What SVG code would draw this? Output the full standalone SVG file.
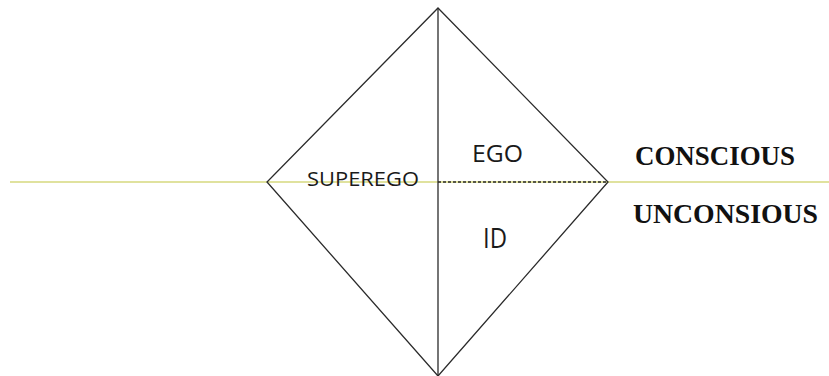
<svg xmlns="http://www.w3.org/2000/svg" width="829" height="376" viewBox="0 0 829 376">
<style>
.edge{stroke:#2a2a2a;stroke-width:1.3;fill:none}
.lbl{font-family:"Open Sans","Liberation Sans",sans-serif;fill:#1a1a1a}
.side{font-family:"Liberation Serif",serif;font-weight:bold;fill:#111}
</style>
<rect width="829" height="376" fill="#fff"/>
<g id="connectors">
<line x1="10" y1="182" x2="829" y2="182" stroke="#e0e29e" stroke-width="2"/>
<line class="edge" x1="438" y1="182" x2="608" y2="182" stroke-dasharray="3,2" stroke-width="2" stroke="#222"/>
</g>
<g id="diamond">
<polygon class="edge" points="438,8 608,182 438,376 267,182"/>
<line class="edge" x1="438" y1="8" x2="438" y2="376" stroke="#555"/>
</g>
<g id="superego"><text class="lbl" x="307" y="186" font-size="19.5" textLength="112" lengthAdjust="spacingAndGlyphs">SUPEREGO</text></g>
<g id="ego"><text class="lbl" x="472" y="162" font-size="24" textLength="51" lengthAdjust="spacingAndGlyphs">EGO</text></g>
<g id="id"><text class="lbl" x="483" y="248" font-size="28" textLength="24" lengthAdjust="spacingAndGlyphs">ID</text></g>
<g id="conscious"><text class="side" x="635" y="165" font-size="27" textLength="160" lengthAdjust="spacingAndGlyphs">CONSCIOUS</text></g>
<g id="unconscious"><text class="side" x="633" y="223" font-size="27" textLength="185" lengthAdjust="spacingAndGlyphs">UNCONSIOUS</text></g>
</svg>
